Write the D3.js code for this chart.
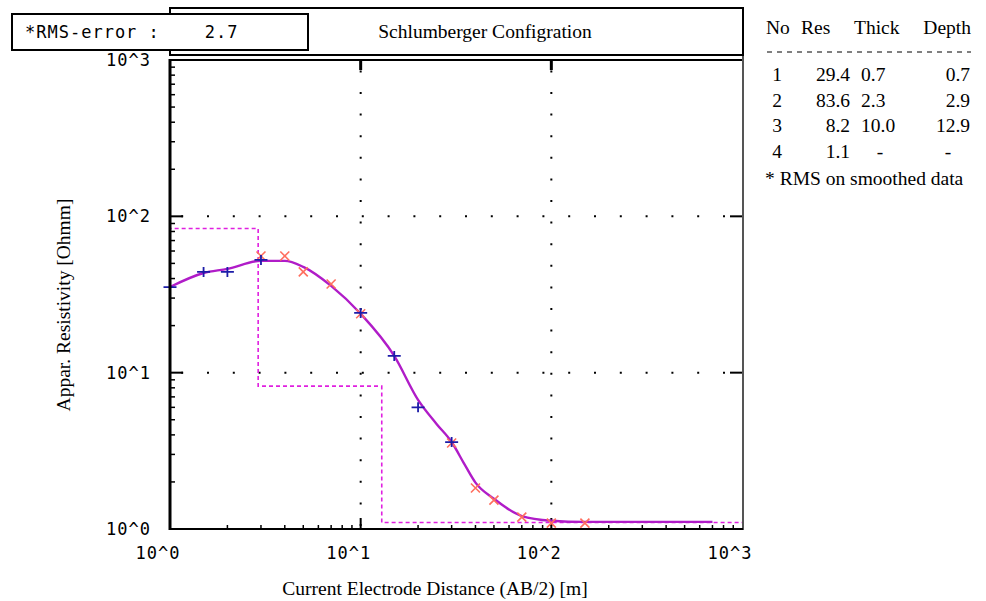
<!DOCTYPE html>
<html><head><meta charset="utf-8">
<script src="https://cdn.jsdelivr.net/npm/d3@7"></script>
<style>
html,body{margin:0;padding:0;background:#fff;}
svg{display:block;}
.mono{font-family:"DejaVu Sans Mono",monospace;font-size:17px;letter-spacing:1px;fill:#000;}
.serif{font-family:"Liberation Serif","Times New Roman",serif;fill:#000;}
</style></head>
<body>
<svg id="c" width="986" height="601"></svg>
<script>
// ---- data ----
const rmsError = "2.7";
const titleText = "Schlumberger Configration";
const xTickLabels = ["10^0","10^1","10^2","10^3"];
const yTickLabels = ["10^0","10^1","10^2","10^3"];
const tickValues = [1,10,100,1000];

// model curve (apparent resistivity)
const curveX = [1, 1.5, 2, 3, 4, 5, 7, 10, 15, 20, 25, 30, 35, 40, 50, 70, 100, 150, 300, 700];
const curveY = [35.3, 43.4, 46.1, 51.9, 51.9, 47.5, 35.9, 23.8, 12.8, 6.7, 4.7, 3.6, 2.6, 1.98, 1.56, 1.21, 1.13, 1.11, 1.11, 1.11];

// measured data (blue +)
const measX = [1, 1.5, 2, 3, 10, 15, 20, 30];
const measY = [35.3, 44.1, 44.1, 52.6, 24.1, 12.8, 6.0, 3.6];

// smoothed data (red x)
const smoothX = [3, 4, 5, 7, 10, 30, 40, 50, 70, 100, 150];
const smoothY = [55.8, 55.8, 44.1, 36.9, 23.8, 3.55, 1.83, 1.53, 1.19, 1.09, 1.09];

// layered model
const layerNo = ["1","2","3","4"];
const layerRes = [29.4, 83.6, 8.2, 1.1];
const layerThick = ["0.7","2.3","10.0","-"];
const layerDepth = ["0.7","2.9","12.9","-"];
const layerTop = [0.5, 0.7, 2.9, 12.9];

// ---- drawing ----
const svg = d3.select("#c");
const L = 170, R = 742, T = 60, B = 529;
const x = d3.scaleLog().domain([1,1000]).range([L,R]);
const y = d3.scaleLog().domain([1,1000]).range([B,T]);

svg.append("defs").append("clipPath").attr("id","clip")
  .append("rect").attr("x",L).attr("y",T).attr("width",R-L+1).attr("height",B-T);

// minor tick values
const minor = [];
[1,10,100].forEach(d=>{for(let k=2;k<=9;k++) minor.push(d*k);});

// dotted grid lines
[10,100].forEach(v=>{
  svg.append("line").attr("x1",x(v)).attr("x2",x(v)).attr("y1",T).attr("y2",B)
    .attr("stroke","#000").attr("stroke-width",2)
    .attr("stroke-dasharray","2,19.6").attr("stroke-dashoffset",-10.4);
  svg.append("line").attr("y1",y(v)).attr("y2",y(v)).attr("x1",L).attr("x2",R)
    .attr("stroke","#000").attr("stroke-width",2)
    .attr("stroke-dasharray","2,23.8").attr("stroke-dashoffset",-37);
});

// axes ticks
const g = svg.append("g");
minor.forEach(v=>{
  g.append("line").attr("x1",L).attr("x2",L+5).attr("y1",y(v)).attr("y2",y(v)).attr("stroke","#000").attr("stroke-width",1.5);
  g.append("line").attr("x1",x(v)).attr("x2",x(v)).attr("y1",B).attr("y2",B-4).attr("stroke","#000").attr("stroke-width",1.5);
});
[10,100].forEach(v=>{
  g.append("line").attr("x1",L).attr("x2",L+13).attr("y1",y(v)).attr("y2",y(v)).attr("stroke","#000").attr("stroke-width",2);
  g.append("line").attr("x1",x(v)).attr("x2",x(v)).attr("y1",B).attr("y2",B-11).attr("stroke","#000").attr("stroke-width",2);
  g.append("line").attr("x1",R).attr("x2",R-12).attr("y1",y(v)).attr("y2",y(v)).attr("stroke","#000").attr("stroke-width",2);
  g.append("line").attr("x1",x(v)).attr("x2",x(v)).attr("y1",T).attr("y2",T+10).attr("stroke","#000").attr("stroke-width",3);
});

// model step (dashed)
const plot = svg.append("g").attr("clip-path","url(#clip)");
const stepPts = layerTop.map((t,i)=>[t,layerRes[i]]).concat([[1000,layerRes[layerRes.length-1]]]);
plot.append("path").datum(stepPts)
  .attr("d", d3.line().x(d=>x(d[0])).y(d=>y(d[1])).curve(d3.curveStepAfter))
  .attr("fill","none").attr("stroke","#e020e0").attr("stroke-width",1.6).attr("stroke-dasharray","4,3");

// curve
plot.append("path").datum(curveX.map((v,i)=>[v,curveY[i]]))
  .attr("d", d3.line().x(d=>x(d[0])).y(d=>y(d[1])).curve(d3.curveMonotoneX))
  .attr("fill","none").attr("stroke","#b01cc8").attr("stroke-width",2.4);

// smoothed data x markers
smoothX.forEach((v,i)=>{
  const cx=x(v), cy=y(smoothY[i]), s=4.5;
  svg.append("path").attr("d",`M${cx-s},${cy-s}L${cx+s},${cy+s}M${cx-s},${cy+s}L${cx+s},${cy-s}`)
    .attr("stroke","#ff6e5e").attr("stroke-width",1.6).attr("fill","none");
});
// measured + markers
measX.forEach((v,i)=>{
  const cx=x(v), cy=y(measY[i]);
  svg.append("path").attr("d",`M${cx-6.5},${cy}L${cx+6.5},${cy}M${cx},${cy-5}L${cx},${cy+5}`)
    .attr("stroke","#1c1ca8").attr("stroke-width",1.8).attr("fill","none");
});

// frame lines
svg.append("line").attr("x1",L).attr("x2",R+1).attr("y1",T).attr("y2",T).attr("stroke","#000").attr("stroke-width",2);
svg.append("line").attr("x1",R+1).attr("x2",R+1).attr("y1",8).attr("y2",B+1).attr("stroke","#555").attr("stroke-width",2);
svg.append("line").attr("x1",L).attr("x2",R+1).attr("y1",B).attr("y2",B).attr("stroke","#000").attr("stroke-width",2);
svg.append("line").attr("x1",L).attr("x2",L).attr("y1",T-1).attr("y2",B+1).attr("stroke","#000").attr("stroke-width",3);

// title box
svg.append("rect").attr("x",L).attr("y",8).attr("width",R+1-L).attr("height",47)
  .attr("fill","#fff").attr("stroke","#000").attr("stroke-width",2);
svg.append("text").attr("class","serif").attr("x",485).attr("y",38).attr("text-anchor","middle")
  .style("font-size","19.5px").text(titleText);

// RMS box
svg.append("rect").attr("x",12).attr("y",14).attr("width",296).attr("height",36)
  .attr("fill","#fff").attr("stroke","#000").attr("stroke-width",2);
svg.append("text").attr("class","mono").attr("x",25).attr("y",38).attr("xml:space","preserve")
  .text("*RMS-error :    " + rmsError);

// tick labels
tickValues.forEach((v,i)=>{
  svg.append("text").attr("class","mono").attr("x",x(v)-12).attr("y",559).attr("text-anchor","middle").text(xTickLabels[i]);
  svg.append("text").attr("class","mono").attr("x",151).attr("y",y(v)+6).attr("text-anchor","end").text(yTickLabels[i]);
});

// axis titles
svg.append("text").attr("class","serif").attr("x",435).attr("y",595).attr("text-anchor","middle")
  .style("font-size","19.5px").text("Current Electrode Distance (AB/2) [m]");
svg.append("text").attr("class","serif").attr("transform","translate(70,305) rotate(-90)").attr("text-anchor","middle")
  .style("font-size","19.5px").text("Appar. Resistivity [Ohmm]");

// table
const tbl = svg.append("g").attr("class","serif").style("font-size","19.5px");
tbl.append("text").attr("x",766).attr("y",34).text("No");
tbl.append("text").attr("x",801).attr("y",34).text("Res");
tbl.append("text").attr("x",854).attr("y",34).text("Thick");
tbl.append("text").attr("x",971).attr("y",34).attr("text-anchor","end").text("Depth");
tbl.append("line").attr("x1",767).attr("x2",971).attr("y1",52).attr("y2",52)
  .attr("stroke","#000").attr("stroke-width",1).attr("stroke-dasharray","5,5");
layerNo.forEach((n,i)=>{
  const yy = 81 + i*25.5;
  tbl.append("text").attr("x",777).attr("y",yy).attr("text-anchor","middle").text(n);
  tbl.append("text").attr("x",850).attr("y",yy).attr("text-anchor","end").text(layerRes[i].toFixed(1));
  if (layerThick[i]==="-") {
    tbl.append("text").attr("x",880).attr("y",yy).attr("text-anchor","middle").text("-");
    tbl.append("text").attr("x",948).attr("y",yy).attr("text-anchor","middle").text("-");
  } else {
    tbl.append("text").attr("x",861).attr("y",yy).text(layerThick[i]);
    tbl.append("text").attr("x",970).attr("y",yy).attr("text-anchor","end").text(layerDepth[i]);
  }
});
tbl.append("text").attr("x",765).attr("y",185).text("* RMS on smoothed data");
</script>
</body></html>
